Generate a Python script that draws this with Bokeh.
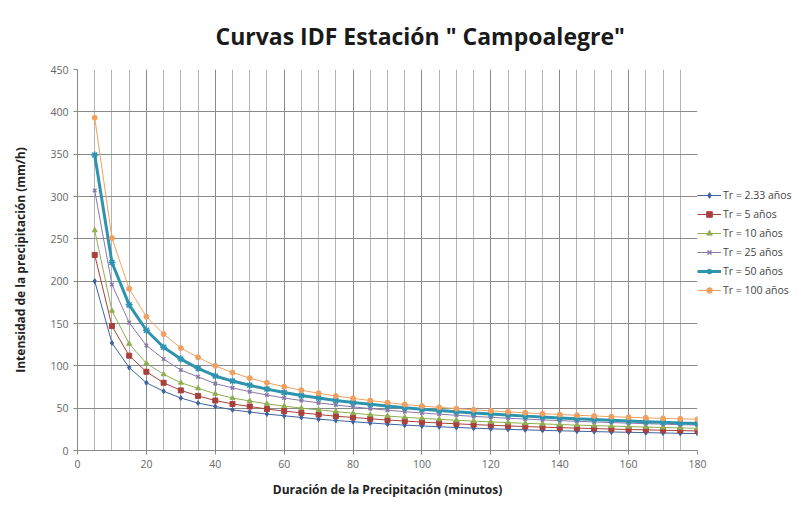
from bokeh.plotting import figure
from bokeh.models import Legend, LegendItem, SingleIntervalTicker, Range1d
from bokeh.embed import file_html
from bokeh.resources import INLINE

durations = [5, 10, 15, 20, 25, 30, 35, 40, 45, 50, 55, 60, 65, 70, 75, 80, 85, 90,
             95, 100, 105, 110, 115, 120, 125, 130, 135, 140, 145, 150, 155, 160, 165, 170, 175, 180]

tr_2_33 = [200, 127, 98, 80, 70, 62, 56, 52, 48, 45.5, 43, 41, 39, 37, 35.5, 34, 32.5, 31.2,
           30, 29, 28, 27.2, 26.4, 25.7, 25, 24.4, 23.8, 23.3, 22.8, 22.3, 21.9, 21.5, 21.1, 20.7, 20.3, 20]
tr_5 = [231, 147, 112, 93, 80, 71, 64.5, 59, 55, 52, 49, 46.5, 44.5, 42.5, 40.5, 39, 37.5, 36,
        34.8, 33.5, 32.5, 31.5, 30.6, 29.8, 29, 28.3, 27.6, 27, 26.4, 25.9, 25.3, 24.8, 24.4, 23.9, 23.5, 23.1]
tr_10 = [260, 165, 126, 103, 90, 80, 73.5, 67, 62, 58.5, 55, 52.5, 50, 48, 46, 44, 42.3, 40.7,
         39.2, 38, 36.8, 35.7, 34.7, 33.8, 32.9, 32.1, 31.4, 30.7, 30, 29.4, 28.8, 28.2, 27.7, 27.2, 26.7, 26.2]
tr_25 = [307, 196, 151, 124, 108, 95, 87, 79, 74, 69.5, 65.5, 62, 59, 56.3, 53.8, 51.5, 49.5, 47.6,
         45.9, 44.3, 42.9, 41.6, 40.3, 39.2, 38.1, 37.1, 36.2, 35.3, 34.5, 33.7, 33, 32.3, 31.7, 31.1, 30.5, 30]
tr_50 = [349, 222, 172, 142, 122, 108, 97, 88, 82, 77, 72.5, 68.5, 65, 62, 59, 56.7, 54.5, 52.5,
         50.6, 48.8, 47.2, 45.7, 44.3, 43, 41.8, 40.6, 39.5, 38.5, 37.5, 36.6, 35.7, 34.9, 34.1, 33.3, 32.6, 32]
tr_100 = [393, 251, 191, 158, 137.5, 121, 110, 100, 92, 85.5, 80, 75.3, 71.2, 67.6, 64.4, 61.6, 59, 56.6,
          54.4, 52.5, 51, 49.5, 48.1, 46.8, 45.6, 44.5, 43.5, 42.5, 41.6, 40.8, 40, 39.3, 38.6, 38, 37.4, 36.9]

labels = ["Tr = 2.33 años", "Tr = 5 años", "Tr = 10 años", "Tr = 25 años", "Tr = 50 años", "Tr = 100 años"]

FONT = "Open Sans"

p = figure(frame_width=620, frame_height=381, output_backend="svg", toolbar_location=None,
           x_range=Range1d(0, 180), y_range=Range1d(0, 450),
           min_border_left=77, min_border_right=108, min_border_top=0, min_border_bottom=50)

p.title.text = 'Curvas IDF Estación " Campoalegre"'
p.title.align = "left"
p.title.offset = 138
p.title.text_font = FONT
p.title.text_font_size = "23px"
p.title.text_font_style = "bold"
p.title.text_color = "#1a1a1a"
p.title.standoff = 35

p.background_fill_color = "white"
p.border_fill_color = "white"
p.outline_line_color = None

xt = SingleIntervalTicker(interval=20, num_minor_ticks=4)
yt = SingleIntervalTicker(interval=50, num_minor_ticks=0)
p.xaxis.ticker = xt
p.yaxis.ticker = yt
p.xgrid.ticker = xt
p.ygrid.ticker = yt

p.xgrid.grid_line_color = "#8a8a8a"
p.xgrid.grid_line_width = 1
p.xgrid.minor_grid_line_color = "#b4b4b4"
p.xgrid.minor_grid_line_width = 1
p.ygrid.grid_line_color = "#8a8a8a"

for ax in (p.xaxis, p.yaxis):
    ax.axis_line_color = "#8a8a8a"
    ax.major_tick_line_color = "#8a8a8a"
    ax.major_tick_out = 4
    ax.major_tick_in = 0
    ax.minor_tick_line_color = None
    ax.major_label_text_font = FONT
    ax.major_label_text_font_size = "10.5px"
    ax.major_label_text_color = "#666666"
    ax.axis_label_text_font = FONT
    ax.axis_label_text_font_size = "12px"
    ax.axis_label_text_font_style = "bold"
    ax.axis_label_text_color = "#222222"

p.xaxis.axis_label = "Duración de la Precipitación (minutos)"
p.yaxis.axis_label = "Intensidad de la precipitación (mm/h)"
p.xaxis.axis_label_standoff = 10
p.yaxis.axis_label_standoff = 18

items = []
series = [tr_2_33, tr_5, tr_10, tr_25, tr_50, tr_100]
colors = ["#3f62a0", "#a8403c", "#8fae52", "#8a78a8", "#2e94ad", "#f0a060"]
markers = ["diamond", "square", "triangle", "x", "asterisk", "circle"]
widths = [1, 1, 1, 1, 3, 1]
sizes = [5, 5, 5, 5, 7, 5]

for lab, ys, c, m, w, s in zip(labels, series, colors, markers, widths, sizes):
    r1 = p.line(durations, ys, line_color=c, line_width=w)
    r2 = p.scatter(durations, ys, marker=m, size=s, fill_color=c, line_color=c,
                   line_width=1.5 if m in ("x", "asterisk") else 1)
    items.append(LegendItem(label=lab, renderers=[r1, r2]))

legend = Legend(items=items, location=(0, 153))
legend.label_text_font = FONT
legend.label_text_font_size = "10.5px"
legend.label_text_color = "#444444"
legend.glyph_width = 24
legend.glyph_height = 14
legend.spacing = 5
legend.label_standoff = 2
legend.padding = 2
legend.margin = 0
legend.border_line_color = None
legend.background_fill_alpha = 0
p.add_layout(legend, "right")

open("out.html", "w").write(file_html(p, INLINE))
